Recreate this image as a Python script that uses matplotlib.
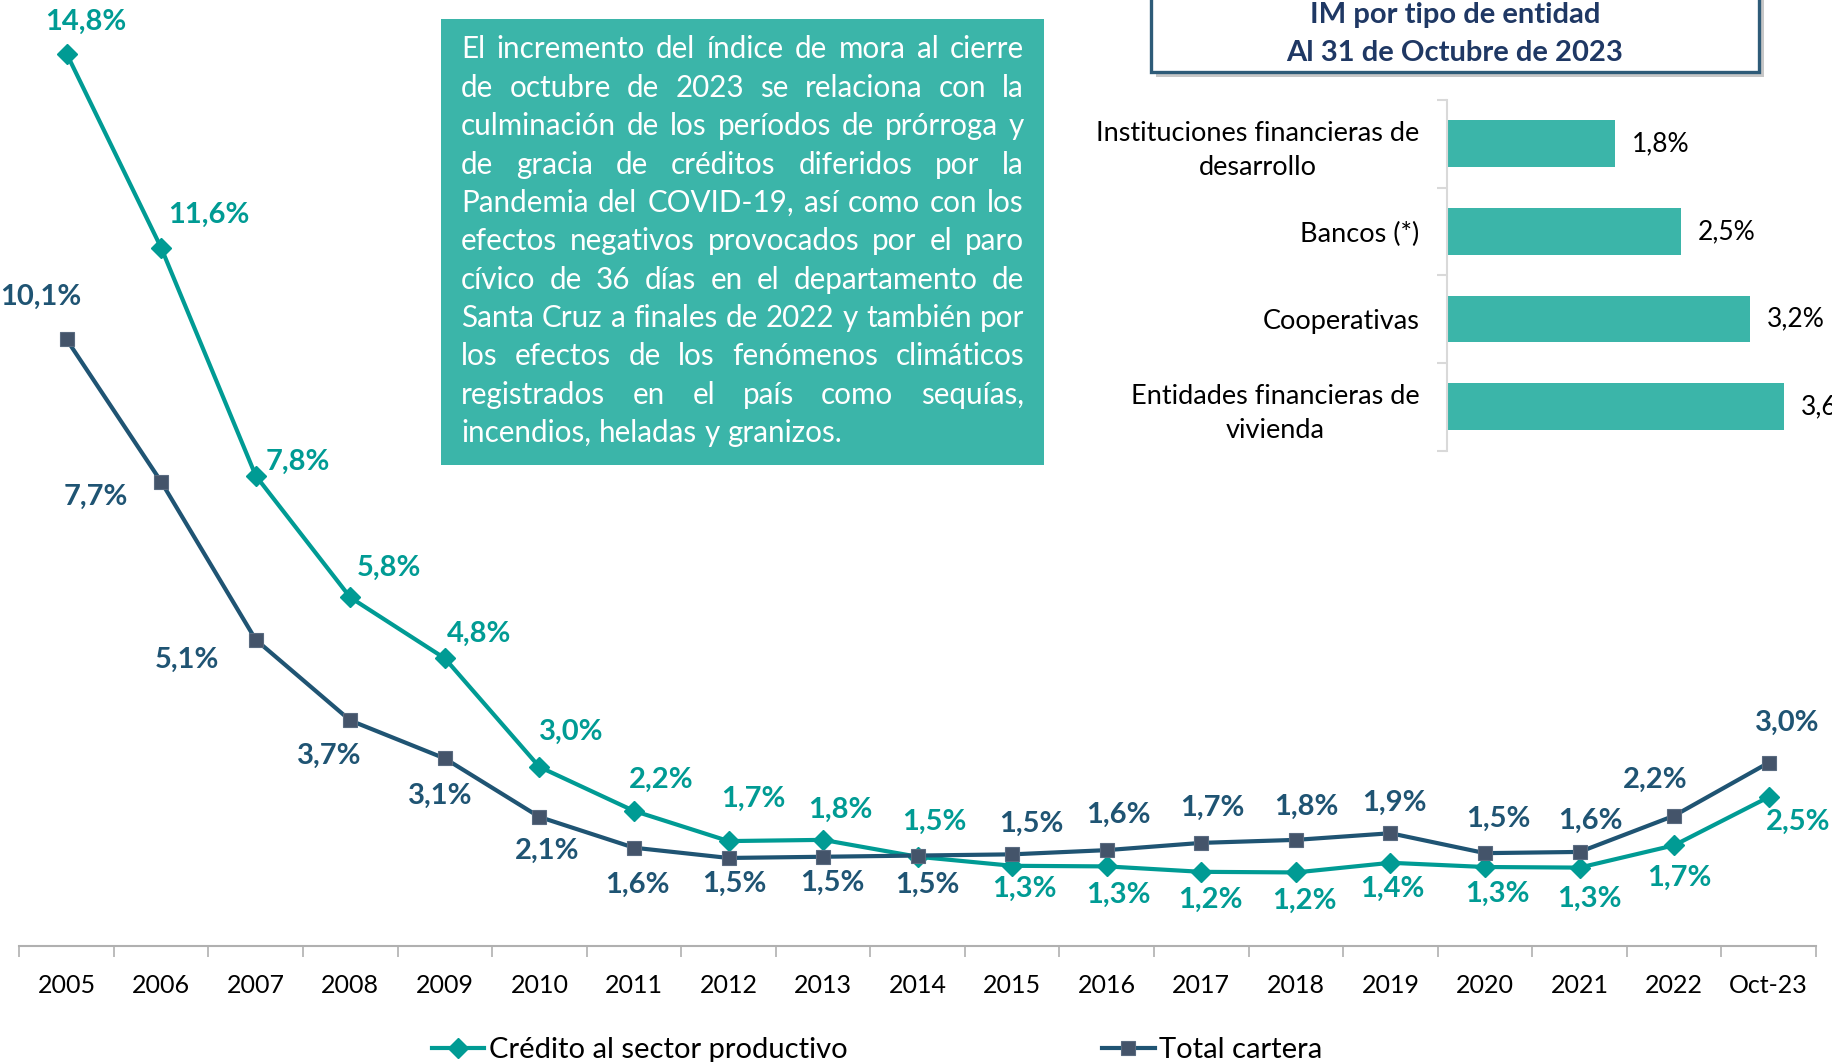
import matplotlib
matplotlib.use("Agg")
import matplotlib.pyplot as plt
from matplotlib.patches import Rectangle
import numpy as np

plt.rcParams['font.family'] = ['Lato', 'DejaVu Sans']

# ---------------- data ----------------
years = ["2005", "2006", "2007", "2008", "2009", "2010", "2011", "2012", "2013",
         "2014", "2015", "2016", "2017", "2018", "2019", "2020", "2021", "2022", "Oct-23"]
credito = [14.80, 11.58, 7.80, 5.78, 4.77, 2.97, 2.24, 1.74, 1.76, 1.48, 1.33, 1.32,
           1.23, 1.22, 1.38, 1.31, 1.30, 1.67, 2.47]
total = [10.06, 7.70, 5.08, 3.74, 3.11, 2.14, 1.63, 1.46, 1.48, 1.50, 1.52, 1.59,
         1.71, 1.76, 1.87, 1.54, 1.56, 2.16, 3.04]
series_names = ["Crédito al sector productivo", "Total cartera"]

entidades = ["Instituciones financieras de\ndesarrollo", "Bancos (*)", "Cooperativas",
             "Entidades financieras de\nvivienda"]
im_entidad = [1.80, 2.50, 3.24, 3.60]

title_lines = ["IM por tipo de entidad", "Al 31 de Octubre de 2023"]
note_lines = [
    "El incremento del índice de mora al cierre",
    "de octubre de 2023 se relaciona con la",
    "culminación de los períodos de prórroga y",
    "de gracia de créditos diferidos por la",
    "Pandemia del COVID-19, así como con los",
    "efectos negativos provocados por el paro",
    "cívico de 36 días en el departamento de",
    "Santa Cruz a finales de 2022 y también por",
    "los efectos de los fenómenos climáticos",
    "registrados en el país como sequías,",
    "incendios, heladas y granizos.",
]

# label offsets (layout, in reference display px; x right, y down)
off_cred = [(16, -27), (41, -28), (36, -12), (33, -25), (29, -21), (27, -30), (23, -27),
            (21, -36), (15, -26), (14, -30), (10, 20), (10, 24), (8, 24), (7, 24),
            (2, 22), (11, 23), (8, 27), (4, 28), (25, 21)]
off_tot = [(-22, -36), (-56, 13), (-59, 17), (-18, 30), (-4, 32), (7, 29), (3, 32),
           (5, 22), (8, 22), (8, 25), (16, -26), (10, -30), (9, -30), (9, -28),
           (3, -26), (11, -29), (9, -27), (-16, -31), (16, -34)]
SC = 1.169

# ---------------- colours ----------------
C_CRED = "#009B94"
C_TOT_LINE = "#1F5473"
C_TOT_MARK = "#44546A"
C_TEAL = "#3BB5A9"
C_TITLE = "#1F3864"

W, H = 1833, 1062
fig = plt.figure(figsize=(W / 100, H / 100), dpi=100)

def fx(px):
    return px / W

def fy(px_from_top):
    return (H - px_from_top) / H

# ---------------- line chart ----------------
AX_L, AX_R, AX_B = 19.3, 1816, 946
PX_PER_PCT = 60.3
ax = fig.add_axes([fx(AX_L), fy(AX_B), fx(AX_R - AX_L), AX_B / H])
ax.patch.set_visible(False)
x = np.arange(len(years))
l1, = ax.plot(x, credito, color=C_CRED, lw=3, marker='D', ms=10, mfc=C_CRED, mec=C_CRED,
              label=series_names[0], zorder=3)
l2, = ax.plot(x, total, color=C_TOT_LINE, lw=3, marker='s', ms=10, mfc=C_TOT_MARK,
              mec="#5A6B80", mew=0.8, label=series_names[1], zorder=4)
ax.set_xlim(-0.5, len(years) - 0.5)
ax.set_ylim(0, AX_B / PX_PER_PCT)
for s in ["left", "right", "top"]:
    ax.spines[s].set_visible(False)
ax.spines["bottom"].set_color("#B0B0B0")
ax.spines["bottom"].set_linewidth(1.5)
ax.set_yticks([])
ax.set_xticks(x)
ax.set_xticklabels(years, fontsize=18)
ax.set_xticks(np.arange(-0.5, len(years), 1.0), minor=True)
ax.tick_params(axis='x', which='major', length=0, pad=20)
ax.tick_params(axis='x', which='minor', length=8, color="#B0B0B0", width=1.2)

def fmt(v):
    return f"{v:.1f}".replace(".", ",") + "%"

for i, v in enumerate(credito):
    dx, dy = off_cred[i]
    ax.annotate(fmt(v), (x[i], v), xytext=(dx * SC, -dy * SC), textcoords='offset pixels',
                ha='center', va='center', fontsize=21, fontweight='bold', color=C_CRED,
                zorder=6)
for i, v in enumerate(total):
    dx, dy = off_tot[i]
    ax.annotate(fmt(v), (x[i], v), xytext=(dx * SC, -dy * SC), textcoords='offset pixels',
                ha='center', va='center', fontsize=21, fontweight='bold', color=C_TOT_LINE,
                zorder=6)

# ---------------- bar chart ----------------
BX_L, BX_T, BX_B = 1447, 100, 450.6
PX_PER_PCT_BAR = 93.5
bx = fig.add_axes([fx(BX_L), fy(BX_B), fx(W - BX_L), (BX_B - BX_T) / H])
bx.patch.set_visible(False)
yb = np.arange(len(entidades))
bx.barh(yb, im_entidad, height=0.533, color=C_TEAL)
bx.set_xlim(0, (W - BX_L) / PX_PER_PCT_BAR)
bx.set_ylim(len(entidades) - 0.5, -0.5)
for s in ["right", "top", "bottom"]:
    bx.spines[s].set_visible(False)
bx.spines["left"].set_color("#D9D9D9")
bx.spines["left"].set_linewidth(1.5)
bx.set_xticks([])
bx.set_yticks(yb)
bx.set_yticklabels(entidades, fontsize=19.5, linespacing=1.45)
for t in bx.get_yticklabels():
    t.set_multialignment('center')
bx.set_yticks(np.arange(-0.5, len(entidades), 1.0), minor=True)
bx.tick_params(axis='y', which='major', length=0, pad=20)
bx.tick_params(axis='y', which='minor', length=7, color="#D9D9D9", width=1.5)
for i, v in enumerate(im_entidad):
    bx.annotate(fmt(v), (v, yb[i]), xytext=(17, 0), textcoords='offset pixels',
                ha='left', va='center', fontsize=19, color="black",
                annotation_clip=False)

# ---------------- overlay (boxes, title, legend) ----------------
ov = fig.add_axes([0, 0, 1, 1])
ov.set_xlim(0, W)
ov.set_ylim(H, 0)
ov.axis('off')
ov.patch.set_visible(False)

# note box
ov.add_patch(Rectangle((441, 19), 603, 446, facecolor=C_TEAL, edgecolor='none'))
renderer = fig.canvas.get_renderer()

def text_w(s, fs):
    t = ov.text(0, 0, s, fontsize=fs)
    w = t.get_window_extent(renderer).width
    t.remove()
    return w

TX_L, TX_R = 461, 1024
TW = TX_R - TX_L
fs = 21.5
for _ in range(4):
    sp = text_w("a a", fs) - text_w("aa", fs)
    nat = max(sum(text_w(w, fs) for w in ln.split()) + sp * (len(ln.split()) - 1)
              for ln in note_lines)
    if nat > TW:
        fs *= TW / nat * 0.995
    else:
        break
sp = text_w("a a", fs) - text_w("aa", fs)
for i, ln in enumerate(note_lines):
    words = ln.split()
    ws = [text_w(w, fs) for w in words]
    yb_ = 58.5 + i * 38.34
    if i == len(note_lines) - 1:
        gap = sp
    else:
        gap = (TW - sum(ws)) / (len(words) - 1)
    xc = TX_L
    for w, wd in zip(words, ws):
        ov.text(xc, yb_, w, fontsize=fs, color='white', ha='left', va='baseline')
        xc += wd + gap

# title box with shadow
ov.add_patch(Rectangle((1156, -5), 608, 82, facecolor="#9A9A9A", edgecolor='none',
                       alpha=0.55))
ov.add_patch(Rectangle((1151, -5), 608, 77, facecolor='white', edgecolor="#2E5B78",
                       linewidth=2.4))
ov.text(1455, 23, title_lines[0], fontsize=21, fontweight='bold', color=C_TITLE,
        ha='center', va='baseline')
ov.text(1455, 61, title_lines[1], fontsize=21, fontweight='bold', color=C_TITLE,
        ha='center', va='baseline')

# legends
fig.legend(handles=[l1], loc='center left', bbox_to_anchor=(fx(432), fy(1050)),
           frameon=False, fontsize=21, handlelength=1.8, handletextpad=0.15,
           borderpad=0, borderaxespad=0)
fig.legend(handles=[l2], loc='center left', bbox_to_anchor=(fx(1102), fy(1050)),
           frameon=False, fontsize=21, handlelength=1.8, handletextpad=0.15,
           borderpad=0, borderaxespad=0)

fig.savefig("out.png", dpi=100)
